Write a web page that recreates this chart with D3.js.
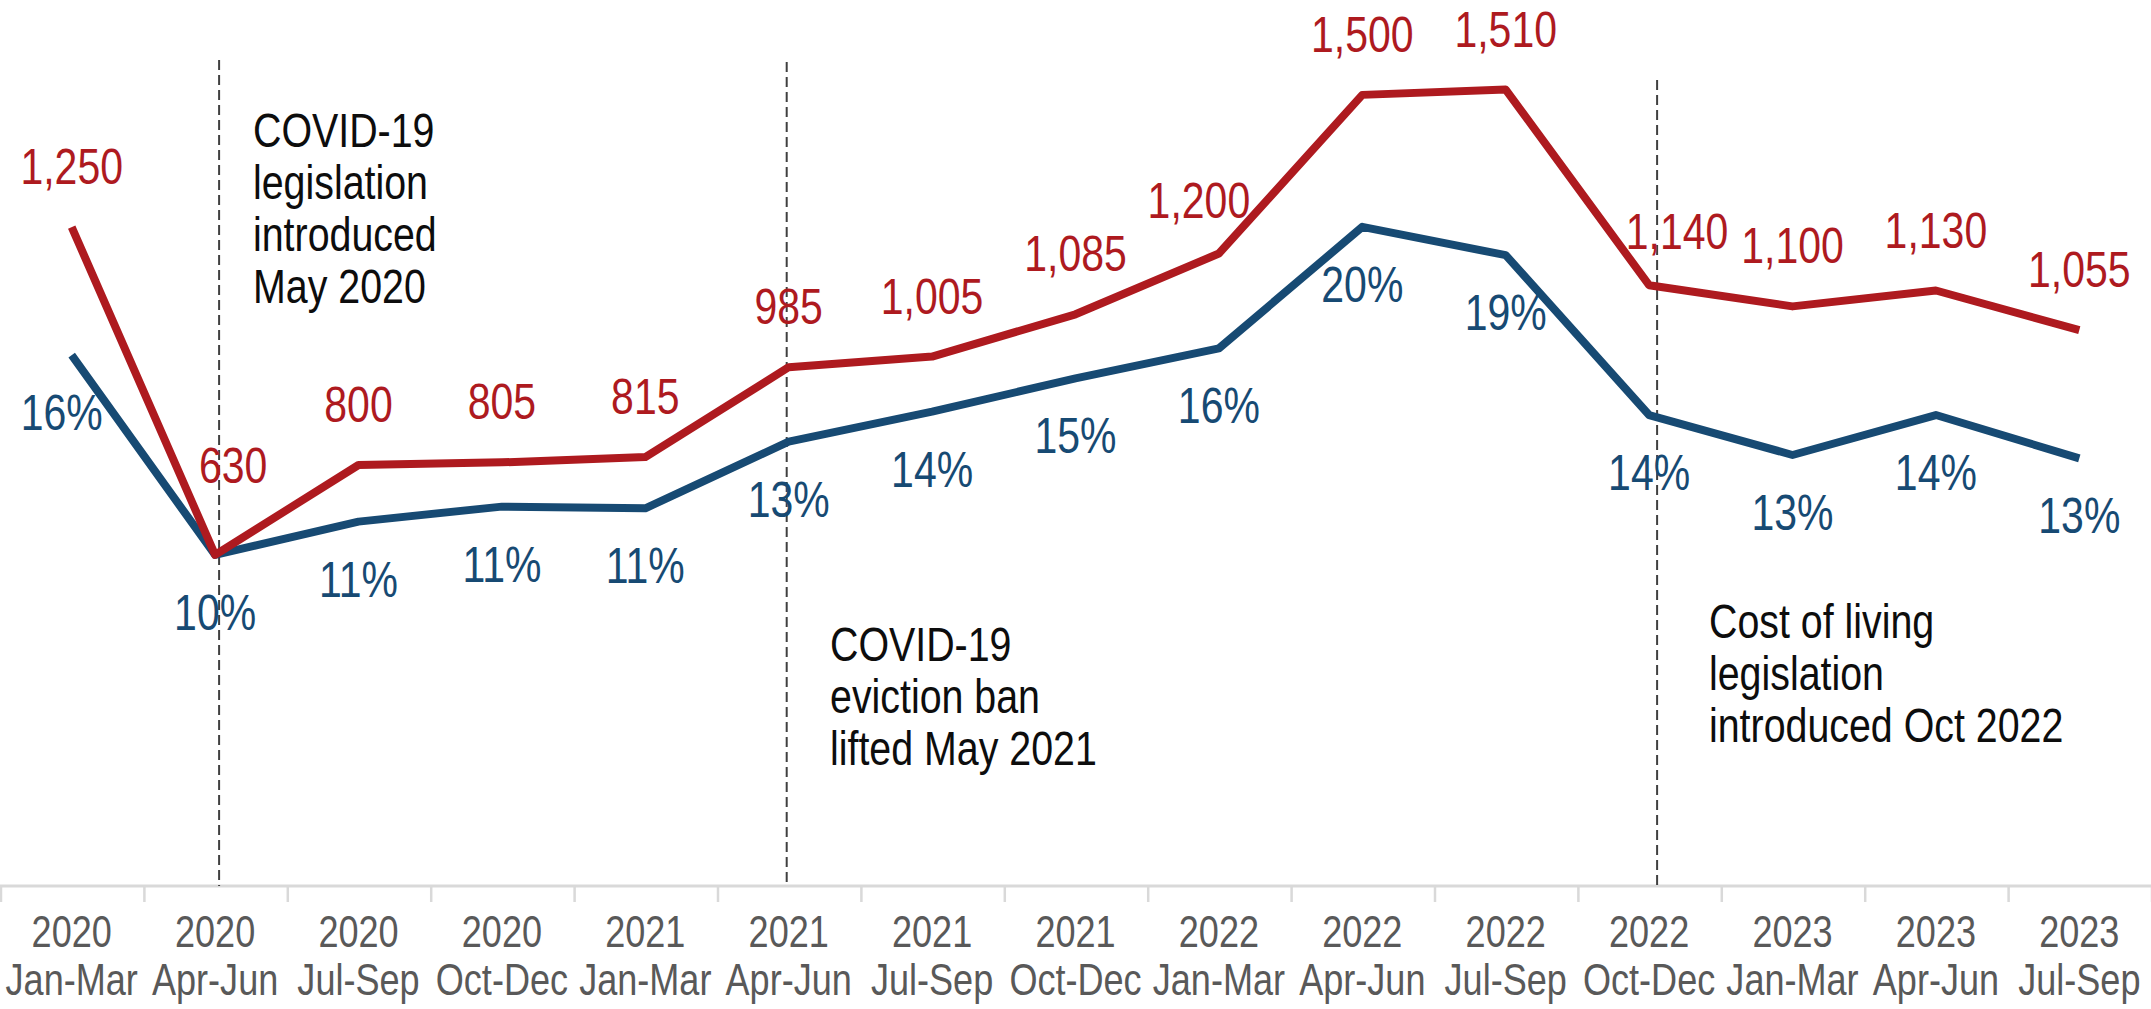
<!DOCTYPE html>
<html>
<head>
<meta charset="utf-8">
<script src="https://cdn.jsdelivr.net/npm/d3@7"></script>
<style>
  body { margin: 0; background: #fff; }
  svg { display: block; }
  text { font-family: "Liberation Sans", Arial, sans-serif; }
</style>
</head>
<body>
<svg id="chart"></svg>
<script>
// quarters on the x axis
const years = ["2020", "2020", "2020", "2020", "2021", "2021", "2021", "2021",
    "2022", "2022", "2022", "2022", "2023", "2023", "2023"];
const periods = ["Jan-Mar", "Apr-Jun", "Jul-Sep", "Oct-Dec", "Jan-Mar", "Apr-Jun", "Jul-Sep", "Oct-Dec",
    "Jan-Mar", "Apr-Jun", "Jul-Sep", "Oct-Dec", "Jan-Mar", "Apr-Jun", "Jul-Sep"];

// red series (counts) and blue series (share, %)
const counts = [1250, 630, 800, 805, 815, 985, 1005, 1085, 1200, 1500, 1510, 1140, 1100, 1130, 1055];
const shares = [16.0, 10.0, 11.0, 11.45, 11.4, 13.4, 14.3, 15.3, 16.2, 19.85, 19.0, 14.2, 13.0, 14.2, 12.9];

// events marked with dashed lines
const eventQuarters = ["2020 Apr-Jun", "2021 Apr-Jun", "2022 Oct-Dec"];
const eventTexts = [
    ["COVID-19", "legislation", "introduced", "May 2020"],
    ["COVID-19", "eviction ban", "lifted May 2021"],
    ["Cost of living", "legislation", "introduced Oct 2022"]
];

function createLineChart(containerId) {
    const width = 2151;
    const height = 1009;
    const plotTop = 42;
    const plotBottom = 888;
    const axisY = 886;
    const narrow = 0.82; // squeeze regular sans into an Arial Narrow look

    const red = "#ae1a1f";
    const blue = "#174a73";

    const keys = years.map((y, i) => y + " " + periods[i]);
    const data = keys.map((k, i) => ({ key: k, year: years[i], period: periods[i], count: counts[i], share: shares[i] }));

    const x = d3.scaleBand()
        .domain(keys)
        .range([0, width]);
    const cx = k => x(k) + x.bandwidth() / 2;

    const yCount = d3.scaleLinear()
        .domain([0, 1600])
        .range([plotBottom, plotTop]);

    const yShare = d3.scaleLinear()
        .domain([0, 25.4])
        .range([plotBottom, plotTop]);

    const place = (px, py) => `translate(${px},${py}) scale(${narrow},1)`;

    const svg = d3.select(containerId)
        .attr("width", width)
        .attr("height", height)
        .attr("viewBox", [0, 0, width, height]);

    // x axis
    svg.append("line")
        .attr("x1", 0)
        .attr("x2", width)
        .attr("y1", axisY)
        .attr("y2", axisY)
        .attr("stroke", "#d9d9d9")
        .attr("stroke-width", 3);

    svg.append("g")
        .selectAll("line")
        .data(keys.concat(["end"]))
        .join("line")
        .attr("x1", (d, i) => i * x.bandwidth() + 1)
        .attr("x2", (d, i) => i * x.bandwidth() + 1)
        .attr("y1", axisY)
        .attr("y2", axisY + 16)
        .attr("stroke", "#d9d9d9")
        .attr("stroke-width", 2.5);

    const ticks = svg.append("g")
        .attr("text-anchor", "middle")
        .attr("fill", "#595959")
        .style("font-size", "44px")
        .selectAll("g")
        .data(data)
        .join("g");
    ticks.append("text").attr("transform", d => place(cx(d.key), 947)).text(d => d.year);
    ticks.append("text").attr("transform", d => place(cx(d.key), 995)).text(d => d.period);

    // event markers
    const eventLayout = [
        { dx: 4, top: 60, tx: 253, ty: 147 },
        { dx: -2, top: 62, tx: 830, ty: 661 },
        { dx: 8, top: 80, tx: 1709, ty: 638 }
    ];
    const events = eventQuarters.map((q, i) => ({ q, lines: eventTexts[i], ...eventLayout[i] }));

    svg.append("g")
        .selectAll("line")
        .data(events)
        .join("line")
        .attr("x1", d => cx(d.q) + d.dx)
        .attr("x2", d => cx(d.q) + d.dx)
        .attr("y1", d => d.top)
        .attr("y2", axisY)
        .attr("stroke", "#404040")
        .attr("stroke-width", 2)
        .attr("stroke-dasharray", "10,5");

    svg.append("g")
        .attr("fill", "#0d0d0d")
        .style("font-size", "48px")
        .selectAll("text")
        .data(events)
        .join("text")
        .attr("transform", d => place(d.tx, d.ty))
        .selectAll("tspan")
        .data(d => d.lines.map((t, i) => ({ t, i })))
        .join("tspan")
        .attr("x", 0)
        .attr("dy", d => d.i === 0 ? 0 : 52)
        .text(d => d.t);

    // lines
    const shareLine = d3.line()
        .x(d => cx(d.key))
        .y(d => yShare(d.share));
    const countLine = d3.line()
        .x(d => cx(d.key))
        .y(d => yCount(d.count));

    svg.append("path")
        .datum(data)
        .attr("fill", "none")
        .attr("stroke", blue)
        .attr("stroke-width", 8)
        .attr("stroke-linejoin", "round")
        .attr("d", shareLine);

    svg.append("path")
        .datum(data)
        .attr("fill", "none")
        .attr("stroke", red)
        .attr("stroke-width", 8)
        .attr("stroke-linejoin", "round")
        .attr("d", countLine);

    // data labels
    const countNudge = { "2020 Apr-Jun": [18, -29], "2022 Jan-Mar": [-20, 7], "2022 Oct-Dec": [28, 7] };
    const shareNudge = { "2020 Jan-Mar": [-10, 0] };
    const fmt = d3.format(",");

    svg.append("g")
        .attr("text-anchor", "middle")
        .attr("fill", red)
        .style("font-size", "50px")
        .selectAll("text")
        .data(data)
        .join("text")
        .attr("transform", d => {
            const n = countNudge[d.key] || [0, 0];
            return place(cx(d.key) + n[0], yCount(d.count) - 43 + n[1]);
        })
        .text(d => fmt(d.count));

    svg.append("g")
        .attr("text-anchor", "middle")
        .attr("fill", blue)
        .style("font-size", "50px")
        .selectAll("text")
        .data(data)
        .join("text")
        .attr("transform", d => {
            const n = shareNudge[d.key] || [0, 0];
            return place(cx(d.key) + n[0], yShare(d.share) + 75 + n[1]);
        })
        .text(d => Math.round(d.share) + "%");
}

createLineChart("#chart");
</script>
</body>
</html>
